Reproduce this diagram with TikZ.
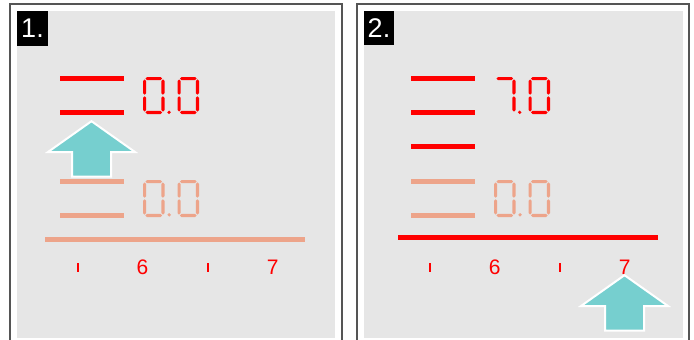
\documentclass[tikz,border=0pt]{standalone}
\usepackage{fontspec}
\newfontfamily\arialfont{Liberation Sans}
\definecolor{dispred}{HTML}{FF0000}
\definecolor{salmon}{HTML}{EDA48A}
\definecolor{arrowcyan}{HTML}{76CFCF}
\definecolor{panelgray}{HTML}{E6E6E6}
\definecolor{framegray}{HTML}{555555}
\newcommand\hsegm[3]{\fill (#1,#3) -- ({#1+1.6},{#3-1.6}) -- ({#2-1.6},{#3-1.6}) -- (#2,#3) -- ({#2-1.6},{#3+1.6}) -- ({#1+1.6},{#3+1.6}) -- cycle;}
\newcommand\vsegm[3]{\fill (#1,#2) -- ({#1+1.6},{#2+1.6}) -- ({#1+1.6},{#3-1.6}) -- (#1,#3) -- ({#1-1.6},{#3-1.6}) -- ({#1-1.6},{#2+1.6}) -- cycle;}
\tikzset{
  sevenzero/.pic={\hsegm{2.4}{19.1}{1.6}\hsegm{2.4}{19.1}{35.4}\vsegm{1.6}{2.4}{17.7}\vsegm{1.6}{19.3}{34.6}\vsegm{19.9}{2.4}{17.7}\vsegm{19.9}{19.3}{34.6}},
  sevenseven/.pic={\hsegm{2.4}{19.1}{1.6}\vsegm{19.9}{2.4}{17.7}\vsegm{19.9}{19.3}{34.6}},
  uparrow/.pic={\filldraw[fill=arrowcyan, draw=white, line width=2pt, line join=miter]
     (0,1.2) -- (43.5,32) -- (19.5,32) -- (19.5,56.5) -- (-19.5,56.5) -- (-19.5,32) -- (-43.5,32) -- cycle;},
  labelbox/.style={fill=black, text=white, inner sep=0pt, minimum width=31pt, minimum height=34.7pt,
     font=\arialfont\fontsize{27}{27}\selectfont},
  scalenum/.style={text=dispred, inner sep=0pt, font=\arialfont\fontsize{21}{21}\selectfont},
  frameline/.style={draw=framegray, line width=1.6pt},
}
\begin{document}
\begin{tikzpicture}[x=1pt,y=-1pt]
\useasboundingbox (0,0) rectangle (694,340);
\fill[white] (0,0) rectangle (694,340);
% ---------- panel 1 ----------
\draw[frameline] (10,345) -- (10,4) -- (342,4) -- (342,345);
\fill[panelgray] (17,11) rectangle (335,337.7);
\node[labelbox] (lab1) at (32.5,28.3) {1.};
\fill[dispred] (60,76.3) rectangle (124,80.7);
\fill[dispred] (60,109.7) rectangle (124,114.5);
\pic[dispred] at (143,77) {sevenzero};
\pic[dispred] at (177.5,77) {sevenzero};
\fill[dispred] (169,112.3) circle (1.8);
\fill[salmon] (60,179) rectangle (124,184);
\fill[salmon] (60,213) rectangle (124,218);
\pic[salmon] at (143,180) {sevenzero};
\pic[salmon] at (177.5,180) {sevenzero};
\fill[salmon] (169.2,214.8) circle (1.8);
\fill[salmon] (45,237) rectangle (305,241.7);
\fill[dispred] (76.7,263) rectangle (79,272);
\fill[dispred] (206.9,263) rectangle (209.2,272);
\node[scalenum] (six1) at (142.5,267) {6};
\node[scalenum] (seven1) at (272.7,267.5) {7};
\pic at (91.5,120) {uparrow};
% ---------- panel 2 ----------
\draw[frameline] (357,345) -- (357,4) -- (689,4) -- (689,345);
\fill[panelgray] (364,11) rectangle (683,337.7);
\node[labelbox, minimum width=30pt] (lab2) at (379,28) {2.};
\fill[dispred] (411,76.3) rectangle (475,80.7);
\fill[dispred] (411,109.7) rectangle (475,114.5);
\fill[dispred] (411,144) rectangle (475,148.7);
\pic[dispred] at (494,77) {sevenseven};
\pic[dispred] at (528.5,77) {sevenzero};
\fill[dispred] (519.7,112.3) circle (1.8);
\fill[salmon] (411,179.3) rectangle (475,184);
\fill[salmon] (411,213.3) rectangle (475,218);
\pic[salmon] at (494,180) {sevenzero};
\pic[salmon] at (528.5,180) {sevenzero};
\fill[salmon] (520,214.8) circle (1.8);
\fill[dispred] (398,235) rectangle (658,240);
\fill[dispred] (428.6,263) rectangle (430.9,272);
\fill[dispred] (558.6,263) rectangle (560.9,272);
\node[scalenum] (six2) at (494.7,267) {6};
\node[scalenum] (seven2) at (624.7,267.5) {7};
\pic at (624.5,274) {uparrow};
\end{tikzpicture}
\end{document}
